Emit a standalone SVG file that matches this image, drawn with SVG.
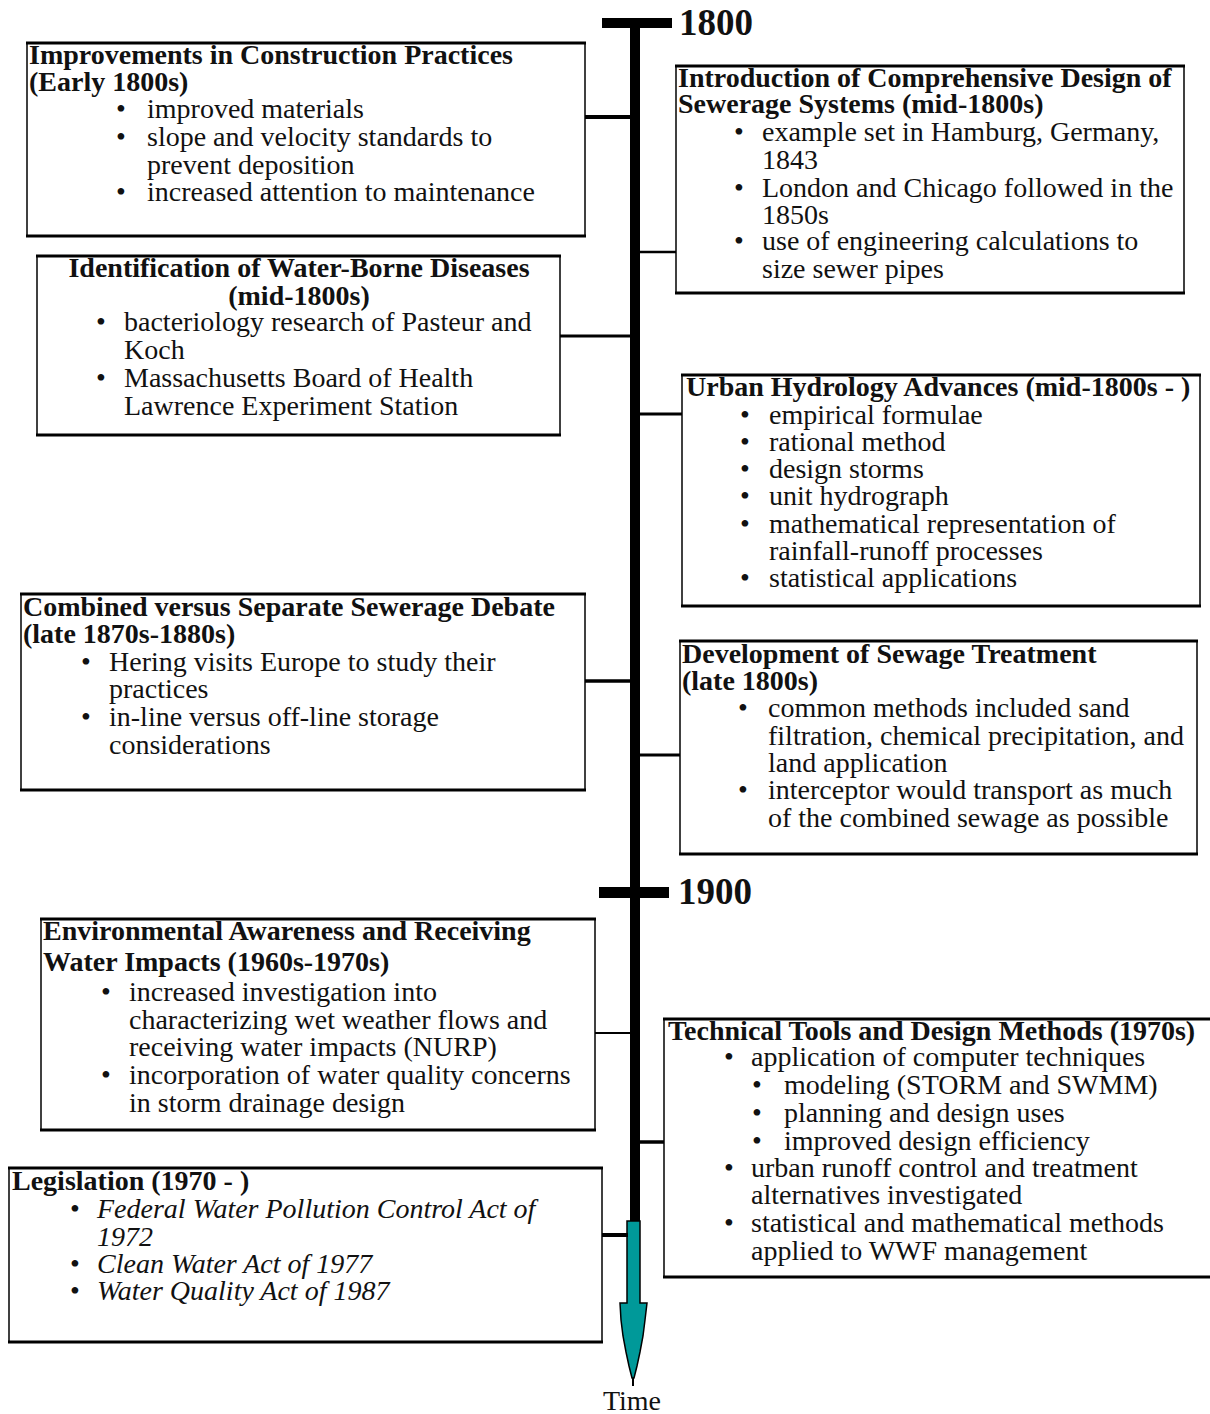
<svg xmlns="http://www.w3.org/2000/svg" width="1210" height="1414" viewBox="0 0 1210 1414">
<style>
text{font-family:"Liberation Serif","Times New Roman",serif;font-size:28px;fill:#111}
.t{font-weight:bold}
.i{font-style:italic}
.side{stroke:#000;stroke-width:1.5;fill:none}
.edge{stroke:#000;stroke-width:3.2;fill:none}
.bg{fill:#fff}
.con{stroke:#000;fill:none}
.yr{font-weight:bold;font-size:37px}
</style>
<rect width="1210" height="1414" fill="#fff"/>

<g id="timeline">
<rect x="630" y="18" width="10" height="1210" fill="#000"/>
<rect x="602" y="18" width="70" height="10" fill="#000"/>
<rect x="599" y="887" width="70" height="11" fill="#000"/>
<text class="yr" x="679" y="35">1800</text>
<text class="yr" x="678" y="904">1900</text>
<line x1="633" y1="1370" x2="633" y2="1386" stroke="#000" stroke-width="2"/>
<polygon points="627,1221 640,1221 640,1303 647,1303 645,1320 643,1336 640,1352 637,1366 634,1378 632,1378 629,1366 626,1352 623,1336 621,1320 620,1303 627,1303" fill="#009999" stroke="#000" stroke-width="1.5"/>
<text x="632" y="1410" text-anchor="middle" font-size="29">Time</text>
</g>

<g id="connectors">
<line class="con" x1="585" y1="117" x2="631" y2="117" stroke-width="4"/>
<line class="con" x1="640" y1="252" x2="676" y2="252" stroke-width="2.5"/>
<line class="con" x1="560" y1="336" x2="631" y2="336" stroke-width="3"/>
<line class="con" x1="640" y1="414" x2="682" y2="414" stroke-width="3"/>
<line class="con" x1="585" y1="681" x2="631" y2="681" stroke-width="3.5"/>
<line class="con" x1="640" y1="755" x2="680" y2="755" stroke-width="3"/>
<line class="con" x1="590" y1="1033" x2="631" y2="1033" stroke-width="2"/>
<line class="con" x1="640" y1="1142" x2="664" y2="1142" stroke-width="3.5"/>
<line class="con" x1="602" y1="1235" x2="628" y2="1235" stroke-width="4"/>
</g>

<g id="box1">
<rect class="bg" x="27" y="43" width="558" height="193"/>
<line class="side" x1="27" y1="43" x2="27" y2="236"/><line class="side" x1="585" y1="43" x2="585" y2="236"/>
<line class="edge" x1="26" y1="43" x2="586" y2="43"/><line class="edge" x1="26" y1="236" x2="586" y2="236"/>
<text class="t" x="29" y="64">Improvements in Construction Practices</text>
<text class="t" x="29" y="91">(Early 1800s)</text>
<text x="116" y="118">•</text><text x="147" y="118">improved materials</text>
<text x="116" y="146">•</text><text x="147" y="146">slope and velocity standards to</text>
<text x="147" y="174">prevent deposition</text>
<text x="116" y="201">•</text><text x="147" y="201">increased attention to maintenance</text>
</g>

<g id="box2">
<rect class="bg" x="676" y="66" width="508" height="227"/>
<line class="side" x1="676" y1="66" x2="676" y2="293"/><line class="side" x1="1184" y1="66" x2="1184" y2="293"/>
<line class="edge" x1="675" y1="66" x2="1185" y2="66"/><line class="edge" x1="675" y1="293" x2="1185" y2="293"/>
<text class="t" x="678" y="87" font-size="26">Introduction of Comprehensive Design of</text>
<text class="t" x="678" y="113" font-size="26">Sewerage Systems (mid-1800s)</text>
<text x="734" y="141">•</text><text x="762" y="141">example set in Hamburg, Germany,</text>
<text x="762" y="169">1843</text>
<text x="734" y="197">•</text><text x="762" y="197">London and Chicago followed in the</text>
<text x="762" y="224">1850s</text>
<text x="734" y="250">•</text><text x="762" y="250">use of engineering calculations to</text>
<text x="762" y="278">size sewer pipes</text>
</g>

<g id="box3">
<rect class="bg" x="37" y="256" width="523" height="179"/>
<line class="side" x1="37" y1="256" x2="37" y2="435"/><line class="side" x1="560" y1="256" x2="560" y2="435"/>
<line class="edge" x1="36" y1="256" x2="561" y2="256"/><line class="edge" x1="36" y1="435" x2="561" y2="435"/>
<text class="t" x="299" y="277" text-anchor="middle">Identification of Water-Borne Diseases</text>
<text class="t" x="299" y="305" text-anchor="middle">(mid-1800s)</text>
<text x="96" y="331">•</text><text x="124" y="331">bacteriology research of Pasteur and</text>
<text x="124" y="359">Koch</text>
<text x="96" y="387">•</text><text x="124" y="387">Massachusetts Board of Health</text>
<text x="124" y="415">Lawrence Experiment Station</text>
</g>

<g id="box4">
<rect class="bg" x="682" y="375" width="518" height="231"/>
<line class="side" x1="682" y1="375" x2="682" y2="606"/><line class="side" x1="1200" y1="375" x2="1200" y2="606"/>
<line class="edge" x1="681" y1="375" x2="1201" y2="375"/><line class="edge" x1="681" y1="606" x2="1201" y2="606"/>
<text class="t" x="686" y="396">Urban Hydrology Advances (mid-1800s - )</text>
<text x="740" y="424">•</text><text x="769" y="424">empirical formulae</text>
<text x="740" y="451">•</text><text x="769" y="451">rational method</text>
<text x="740" y="478">•</text><text x="769" y="478">design storms</text>
<text x="740" y="505">•</text><text x="769" y="505">unit hydrograph</text>
<text x="740" y="533">•</text><text x="769" y="533">mathematical representation of</text>
<text x="769" y="560">rainfall-runoff processes</text>
<text x="740" y="587">•</text><text x="769" y="587">statistical applications</text>
</g>

<g id="box5">
<rect class="bg" x="21" y="594" width="564" height="196"/>
<line class="side" x1="21" y1="594" x2="21" y2="790"/><line class="side" x1="585" y1="594" x2="585" y2="790"/>
<line class="edge" x1="20" y1="594" x2="586" y2="594"/><line class="edge" x1="20" y1="790" x2="586" y2="790"/>
<text class="t" x="23" y="616">Combined versus Separate Sewerage Debate</text>
<text class="t" x="23" y="643">(late 1870s-1880s)</text>
<text x="81" y="671">•</text><text x="109" y="671">Hering visits Europe to study their</text>
<text x="109" y="698">practices</text>
<text x="81" y="726">•</text><text x="109" y="726">in-line versus off-line storage</text>
<text x="109" y="754">considerations</text>
</g>

<g id="box6">
<rect class="bg" x="680" y="641" width="517" height="213"/>
<line class="side" x1="680" y1="641" x2="680" y2="854"/><line class="side" x1="1197" y1="641" x2="1197" y2="854"/>
<line class="edge" x1="679" y1="641" x2="1198" y2="641"/><line class="edge" x1="679" y1="854" x2="1198" y2="854"/>
<text class="t" x="682" y="663">Development of Sewage Treatment</text>
<text class="t" x="682" y="690">(late 1800s)</text>
<text x="738" y="717">•</text><text x="768" y="717">common methods included sand</text>
<text x="768" y="745">filtration, chemical precipitation, and</text>
<text x="768" y="772">land application</text>
<text x="738" y="799">•</text><text x="768" y="799">interceptor would transport as much</text>
<text x="768" y="827">of the combined sewage as possible</text>
</g>

<g id="box7">
<rect class="bg" x="41" y="919" width="554" height="211"/>
<line class="side" x1="41" y1="919" x2="41" y2="1130"/><line class="side" x1="595" y1="919" x2="595" y2="1130"/>
<line class="edge" x1="40" y1="919" x2="596" y2="919"/><line class="edge" x1="40" y1="1130" x2="596" y2="1130"/>
<text class="t" x="43" y="940">Environmental Awareness and Receiving</text>
<text class="t" x="43" y="971">Water Impacts (1960s-1970s)</text>
<text x="101" y="1001">•</text><text x="129" y="1001">increased investigation into</text>
<text x="129" y="1029">characterizing wet weather flows and</text>
<text x="129" y="1056">receiving water impacts (NURP)</text>
<text x="101" y="1084">•</text><text x="129" y="1084">incorporation of water quality concerns</text>
<text x="129" y="1112">in storm drainage design</text>
</g>

<g id="box8">
<rect class="bg" x="664" y="1019" width="550" height="258"/>
<line class="side" x1="664" y1="1019" x2="664" y2="1277"/>
<line class="edge" x1="663" y1="1019" x2="1215" y2="1019"/><line class="edge" x1="663" y1="1277" x2="1215" y2="1277"/>
<text class="t" x="668" y="1040">Technical Tools and Design Methods (1970s)</text>
<text x="724" y="1066">•</text><text x="751" y="1066">application of computer techniques</text>
<text x="752" y="1094">•</text><text x="784" y="1094">modeling (STORM and SWMM)</text>
<text x="752" y="1122">•</text><text x="784" y="1122">planning and design uses</text>
<text x="752" y="1150">•</text><text x="784" y="1150">improved design efficiency</text>
<text x="724" y="1177">•</text><text x="751" y="1177">urban runoff control and treatment</text>
<text x="751" y="1204">alternatives investigated</text>
<text x="724" y="1232">•</text><text x="751" y="1232">statistical and mathematical methods</text>
<text x="751" y="1260">applied to WWF management</text>
</g>

<g id="box9">
<rect class="bg" x="9" y="1168" width="593" height="174"/>
<line class="side" x1="9" y1="1168" x2="9" y2="1342"/><line class="side" x1="602" y1="1168" x2="602" y2="1342"/>
<line class="edge" x1="8" y1="1168" x2="603" y2="1168"/><line class="edge" x1="8" y1="1342" x2="603" y2="1342"/>
<text class="t" x="12" y="1190">Legislation (1970 - )</text>
<text x="70" y="1218">•</text><text class="i" x="97" y="1218">Federal Water Pollution Control Act of</text>
<text class="i" x="97" y="1246">1972</text>
<text x="70" y="1273">•</text><text class="i" x="97" y="1273">Clean Water Act of 1977</text>
<text x="70" y="1300">•</text><text class="i" x="97" y="1300">Water Quality Act of 1987</text>
</g>
</svg>
